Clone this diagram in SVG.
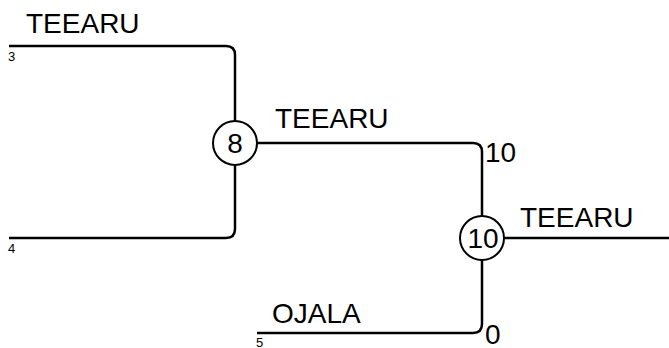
<svg xmlns="http://www.w3.org/2000/svg" width="669" height="348" viewBox="0 0 669 348">
<style>
.ln{fill:none;stroke:#000;stroke-width:2.5}
.nd{fill:#fff;stroke:#000;stroke-width:2}
.big{font-family:"Liberation Sans",Arial,sans-serif;font-size:28px;fill:#000}
.sm{font-family:"Liberation Sans",Arial,sans-serif;font-size:13px;fill:#000}
</style>
<rect width="669" height="348" fill="#fff"/>
<g id="connectors">
<path class="ln" d="M9,46 H226 Q235,46 235,55 V229 Q235,238 226,238 H9"/>
<path class="ln" d="M235,143 H473 Q482,143 482,152 V324 Q482,333 473,333 H257"/>
<path class="ln" d="M482,238 H669"/>
</g>
<g id="leaf3"><text class="sm" x="8" y="61">3</text><text class="big" x="26" y="33">TEEARU</text></g>
<g id="leaf4"><text class="sm" x="8" y="253">4</text></g>
<g id="leaf5"><text class="sm" x="256" y="347">5</text><text class="big" x="272" y="323">OJALA</text></g>
<g id="node8">
<circle class="nd" cx="235" cy="143" r="22"/>
<text class="big" x="235" y="153" text-anchor="middle">8</text>
<text class="big" x="275" y="128">TEEARU</text>
</g>
<g id="node10">
<circle class="nd" cx="482" cy="238" r="22"/>
<text class="big" x="483" y="248" text-anchor="middle">10</text>
<text class="big" x="485" y="162">10</text>
<text class="big" x="485" y="344">0</text>
<text class="big" x="520" y="227">TEEARU</text>
</g>
</svg>
